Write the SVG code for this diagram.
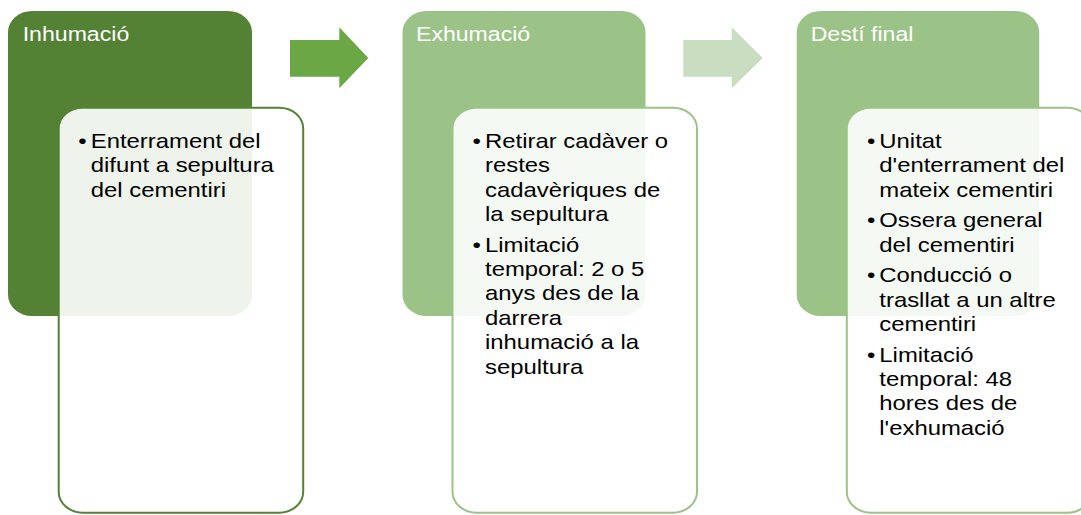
<svg xmlns="http://www.w3.org/2000/svg" width="1081" height="515" viewBox="0 0 1081 515">
<style>
.hdr{stroke:none}
.inner{fill:#ffffff;fill-opacity:0.9;stroke-width:2}
.htxt{font-family:"Liberation Sans",Arial,sans-serif;font-size:21px;fill:#ffffff}
.btxt{font-family:"Liberation Sans",Arial,sans-serif;font-size:20.5px;fill:#000000}
</style>
<rect width="1081" height="515" fill="#ffffff"/>
<g id="connectors">
<polygon points="290,40 339.3,40 339.3,27.3 368.3,58 339.3,88.3 339.3,76.7 290,76.7" fill="#6BA745"/>
<polygon points="683.3,40 731.7,40 731.7,27.3 762.7,58 731.7,88.3 731.7,76.7 683.3,76.7" fill="#C9DDC0"/>
</g>
<g id="node-inhumacio">
<rect class="hdr" x="8" y="11" width="244" height="305" rx="24" ry="21" fill="#548235"/>
<text class="htxt" transform="translate(22.7,41) scale(1.1,1)">Inhumació</text>
<rect class="inner" x="58.7" y="107.7" width="244.5" height="405" rx="24" ry="21" stroke="#548235"/>
<text class="btxt" transform="translate(78.3,148) scale(1.165,1)">•</text>
<text class="btxt" transform="translate(90.7,148) scale(1.165,1)"><tspan x="0" y="0">Enterrament del</tspan><tspan x="0" y="24.4">difunt a sepultura</tspan><tspan x="0" y="48.8">del cementiri</tspan></text>
</g>
<g id="node-exhumacio">
<rect class="hdr" x="402.5" y="11" width="243" height="305" rx="24" ry="21" fill="#9CC387"/>
<text class="htxt" transform="translate(416,41) scale(1.1,1)">Exhumació</text>
<rect class="inner" x="452.5" y="107.7" width="244.5" height="405" rx="24" ry="21" stroke="#9CC387"/>
<text class="btxt" transform="translate(472.6,148) scale(1.165,1)">•</text>
<text class="btxt" transform="translate(485,148) scale(1.165,1)"><tspan x="0" y="0">Retirar cadàver o</tspan><tspan x="0" y="24.4">restes</tspan><tspan x="0" y="48.8">cadavèriques de</tspan><tspan x="0" y="73.2">la sepultura</tspan></text>
<text class="btxt" transform="translate(472.6,251.7) scale(1.165,1)">•</text>
<text class="btxt" transform="translate(485,251.7) scale(1.165,1)"><tspan x="0" y="0">Limitació</tspan><tspan x="0" y="24.4">temporal: 2 o 5</tspan><tspan x="0" y="48.8">anys des de la</tspan><tspan x="0" y="73.2">darrera</tspan><tspan x="0" y="97.6">inhumació a la</tspan><tspan x="0" y="122">sepultura</tspan></text>
</g>
<g id="node-desti-final">
<rect class="hdr" x="796.7" y="11" width="242.5" height="305" rx="24" ry="21" fill="#9CC387"/>
<text class="htxt" transform="translate(810.7,41) scale(1.1,1)">Destí final</text>
<rect class="inner" x="846.8" y="107.7" width="244.5" height="405" rx="24" ry="21" stroke="#9CC387"/>
<text class="btxt" transform="translate(866.9,148) scale(1.165,1)">•</text>
<text class="btxt" transform="translate(879.3,148) scale(1.165,1)"><tspan x="0" y="0">Unitat</tspan><tspan x="0" y="24.4">d'enterrament del</tspan><tspan x="0" y="48.8">mateix cementiri</tspan></text>
<text class="btxt" transform="translate(866.9,227.3) scale(1.165,1)">•</text>
<text class="btxt" transform="translate(879.3,227.3) scale(1.165,1)"><tspan x="0" y="0">Ossera general</tspan><tspan x="0" y="24.4">del cementiri</tspan></text>
<text class="btxt" transform="translate(866.9,282.2) scale(1.165,1)">•</text>
<text class="btxt" transform="translate(879.3,282.2) scale(1.165,1)"><tspan x="0" y="0">Conducció o</tspan><tspan x="0" y="24.4">trasllat a un altre</tspan><tspan x="0" y="48.8">cementiri</tspan></text>
<text class="btxt" transform="translate(866.9,361.5) scale(1.165,1)">•</text>
<text class="btxt" transform="translate(879.3,361.5) scale(1.165,1)"><tspan x="0" y="0">Limitació</tspan><tspan x="0" y="24.4">temporal: 48</tspan><tspan x="0" y="48.8">hores des de</tspan><tspan x="0" y="73.2">l'exhumació</tspan></text>
</g>
</svg>
